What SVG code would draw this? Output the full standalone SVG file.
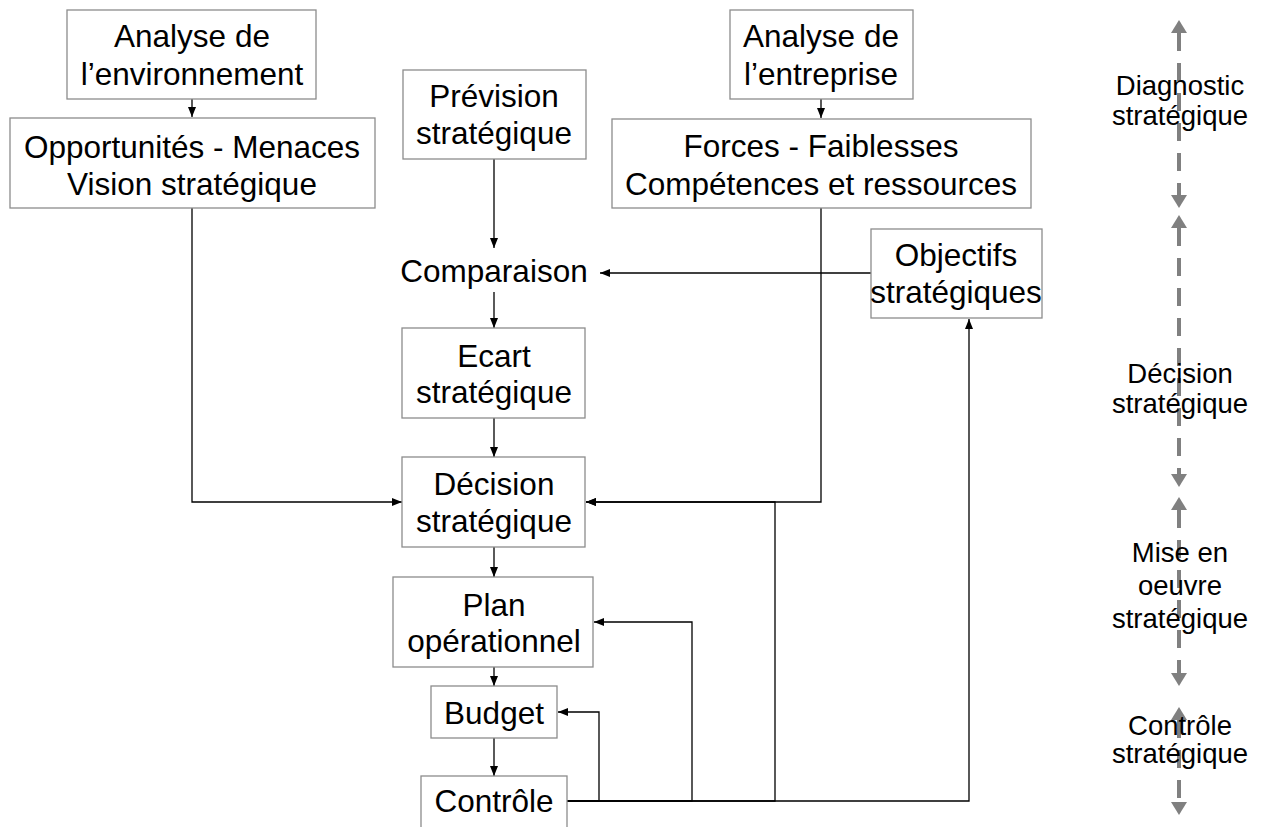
<svg xmlns="http://www.w3.org/2000/svg" width="1262" height="827" viewBox="0 0 1262 827">
  <defs>
    <marker id="arrow" viewBox="0 0 10 8" refX="10" refY="4" markerWidth="10" markerHeight="8" markerUnits="userSpaceOnUse" orient="auto">
      <path d="M0,0 L10,4 L0,8 z" fill="#000"/>
    </marker>
    <marker id="grayhead" viewBox="0 0 13 16" refX="0" refY="8" markerWidth="13" markerHeight="16" markerUnits="userSpaceOnUse" orient="auto-start-reverse">
      <path d="M0,0 L13,8 L0,16 z" fill="#808080"/>
    </marker>
    <style>
      .box { fill: #fff; stroke: #8c8c8c; stroke-width: 1.3; }
      .lbl { font-family: "Liberation Sans", Arial, sans-serif; font-size: 31.5px; fill: #000; text-anchor: middle; }
      .side { font-family: "Liberation Sans", Arial, sans-serif; font-size: 27.5px; fill: #000; text-anchor: middle; }
      .conn { fill: none; stroke: #000; stroke-width: 1.3; }
      .phase { fill: none; stroke: #808080; stroke-width: 4; stroke-dasharray: 18 12; }
    </style>
  </defs>

  <!-- connectors -->
  <g id="connectors">
    <path class="conn" d="M192,99 V117" marker-end="url(#arrow)"/>
    <path class="conn" d="M821,99 V118" marker-end="url(#arrow)"/>
    <path class="conn" d="M494,159 V248" marker-end="url(#arrow)"/>
    <path class="conn" d="M871,273 H600" marker-end="url(#arrow)"/>
    <path class="conn" d="M494,292 V328" marker-end="url(#arrow)"/>
    <path class="conn" d="M494,418 V457" marker-end="url(#arrow)"/>
    <path class="conn" d="M192,208 V502 H402" marker-end="url(#arrow)"/>
    <path class="conn" d="M821,208 V502 H586" marker-end="url(#arrow)"/>
    <path class="conn" d="M494,547 V577" marker-end="url(#arrow)"/>
    <path class="conn" d="M494,667 V686" marker-end="url(#arrow)"/>
    <path class="conn" d="M494,738 V776" marker-end="url(#arrow)"/>
    <path class="conn" d="M567,801 H599 V712 H558" marker-end="url(#arrow)"/>
    <path class="conn" d="M567,801 H692 V622 H594" marker-end="url(#arrow)"/>
    <path class="conn" d="M567,801 H775 V502 H586" marker-end="url(#arrow)"/>
    <path class="conn" d="M567,801 H969 V319" marker-end="url(#arrow)"/>
  </g>

  <!-- phase arrows -->
  <g id="phases">
    <line class="phase" x1="1179" y1="33" x2="1179" y2="195" marker-start="url(#grayhead)" marker-end="url(#grayhead)"/>
    <line class="phase" x1="1179" y1="228" x2="1179" y2="474" marker-start="url(#grayhead)" marker-end="url(#grayhead)"/>
    <line class="phase" x1="1179" y1="510" x2="1179" y2="673" marker-start="url(#grayhead)" marker-end="url(#grayhead)"/>
    <line class="phase" x1="1179" y1="720" x2="1179" y2="802" marker-start="url(#grayhead)" marker-end="url(#grayhead)"/>
  </g>

  <g id="env-analysis">
    <rect class="box" x="67" y="10" width="249" height="89"/>
    <text class="lbl" x="192" y="47">Analyse de</text>
    <text class="lbl" x="192" y="85">l’environnement</text>
  </g>
  <g id="opportunities">
    <rect class="box" x="10" y="118" width="365" height="90"/>
    <text class="lbl" x="192" y="158">Opportunités - Menaces</text>
    <text class="lbl" x="192" y="195">Vision stratégique</text>
  </g>
  <g id="forecast">
    <rect class="box" x="403" y="70" width="183" height="89"/>
    <text class="lbl" x="494" y="107">Prévision</text>
    <text class="lbl" x="494" y="144">stratégique</text>
  </g>
  <g id="company-analysis">
    <rect class="box" x="730" y="10" width="183" height="89"/>
    <text class="lbl" x="821" y="47">Analyse de</text>
    <text class="lbl" x="821" y="85">l’entreprise</text>
  </g>
  <g id="strengths">
    <rect class="box" x="612" y="119" width="419" height="89"/>
    <text class="lbl" x="821" y="157">Forces - Faiblesses</text>
    <text class="lbl" x="821" y="195">Compétences et ressources</text>
  </g>
  <g id="objectives">
    <rect class="box" x="871" y="229" width="171" height="89"/>
    <text class="lbl" x="956" y="266">Objectifs</text>
    <text class="lbl" x="956" y="303">stratégiques</text>
  </g>
  <g id="comparison">
    <text class="lbl" x="494" y="282">Comparaison</text>
  </g>
  <g id="gap">
    <rect class="box" x="402" y="328" width="183" height="90"/>
    <text class="lbl" x="494" y="367">Ecart</text>
    <text class="lbl" x="494" y="403">stratégique</text>
  </g>
  <g id="decision">
    <rect class="box" x="402" y="457" width="183" height="90"/>
    <text class="lbl" x="494" y="495">Décision</text>
    <text class="lbl" x="494" y="532">stratégique</text>
  </g>
  <g id="plan">
    <rect class="box" x="393" y="577" width="200" height="90"/>
    <text class="lbl" x="494" y="616">Plan</text>
    <text class="lbl" x="494" y="652">opérationnel</text>
  </g>
  <g id="budget">
    <rect class="box" x="431" y="686" width="126" height="52"/>
    <text class="lbl" x="494" y="724">Budget</text>
  </g>
  <g id="control">
    <rect class="box" x="421" y="776" width="146" height="70"/>
    <text class="lbl" x="494" y="812">Contrôle</text>
  </g>

  <!-- phase labels -->
  <g id="phase-labels">
    <text class="side" x="1180" y="95">Diagnostic</text>
    <text class="side" x="1180" y="125">stratégique</text>
    <text class="side" x="1180" y="383">Décision</text>
    <text class="side" x="1180" y="413">stratégique</text>
    <text class="side" x="1180" y="562">Mise en</text>
    <text class="side" x="1180" y="595">oeuvre</text>
    <text class="side" x="1180" y="628">stratégique</text>
    <text class="side" x="1180" y="735">Contrôle</text>
    <text class="side" x="1180" y="763">stratégique</text>
  </g>
</svg>
